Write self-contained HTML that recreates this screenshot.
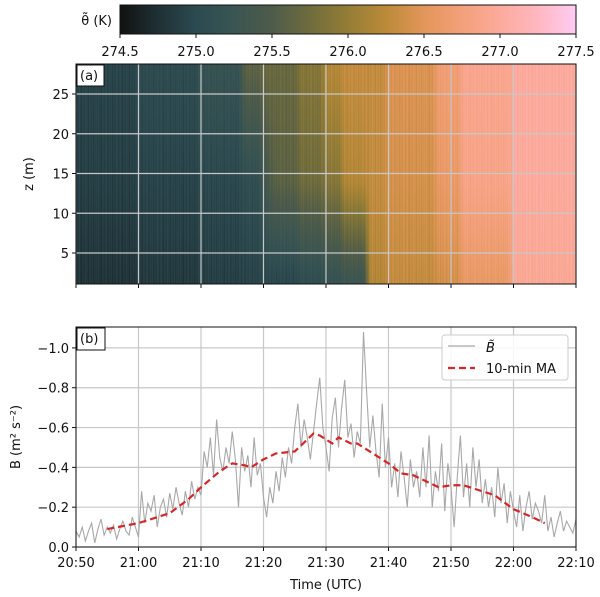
<!DOCTYPE html>
<html><head><meta charset="utf-8"><style>
body{margin:0;background:#fff;width:600px;height:597px;overflow:hidden;font-family:"Liberation Sans","DejaVu Sans",sans-serif}
#wrap{position:relative;width:600px;height:597px}
canvas{position:absolute;left:76px;top:64px}
svg{position:absolute;left:0;top:0}
text{font-family:"DejaVu Sans","Liberation Sans",sans-serif;font-size:13px;fill:#111}
</style></head><body><div id="wrap">
<canvas id="heat" width="500" height="220"></canvas>
<svg id="svg" width="600" height="597"></svg>
</div>
<script>
// ---- data ----
const heatMinutes = 80; // minutes after 20:50, sampled every minute (81 values)
const thetaTop = [274.95,274.95,274.95,274.95,274.95,274.95,274.95,274.95,274.95,274.95,275.05,275.05,275.05,275.05,275.05,275.05,275.05,275.05,275.05,275.05,275.2,275.2,275.2,275.2,275.2,275.2,275.2,275.6,275.6,275.6,275.7,275.7,275.7,275.7,275.7,275.7,275.9,275.9,275.9,275.9,276.2,276.2,276.2,276.3,276.3,276.3,276.3,276.3,276.3,276.3,276.45,276.45,276.45,276.45,276.45,276.45,276.45,276.45,276.7,276.7,276.7,276.7,276.9,276.9,276.9,276.9,276.9,276.9,276.9,276.9,277.0,277.0,277.0,277.0,277.0,277.0,277.0,277.0,277.0,277.0,277.0];
const thetaMid = [274.9,274.9,274.9,274.9,274.9,274.9,274.9,274.9,274.9,274.9,274.95,274.95,274.95,274.95,274.95,274.95,274.95,274.95,274.95,274.95,275.0,275.0,275.0,275.0,275.0,275.0,275.0,275.1,275.1,275.1,275.3,275.5,275.6,275.6,275.6,275.6,275.75,275.75,275.75,275.75,275.9,275.9,275.9,276.2,276.2,276.2,276.2,276.3,276.3,276.3,276.4,276.4,276.4,276.4,276.4,276.4,276.4,276.4,276.6,276.6,276.6,276.6,276.85,276.85,276.85,276.85,276.85,276.85,276.85,276.85,277.0,277.0,277.0,277.0,277.0,277.0,277.0,277.0,277.0,277.0,277.0];
const thetaBottom = [274.8,274.8,274.8,274.8,274.8,274.8,274.8,274.8,274.8,274.8,274.85,274.85,274.85,274.85,274.85,274.85,274.85,274.85,274.85,274.85,274.9,274.9,274.9,274.9,274.9,274.9,274.9,274.95,274.95,274.95,275.0,275.0,275.0,275.0,275.0,275.0,275.1,275.1,275.1,275.1,275.2,275.2,275.2,275.3,275.3,275.3,275.3,276.2,276.2,276.2,276.3,276.3,276.3,276.3,276.3,276.3,276.3,276.3,276.4,276.4,276.4,276.4,276.6,276.6,276.6,276.6,276.6,276.6,276.6,276.6,276.95,276.95,276.95,276.95,276.95,276.95,276.95,276.95,276.95,276.95,276.95];
const zLevels = [2,14,28];
const streaks = [0.05,-0.08,0.02,0.1,-0.04,-0.1,0.06,0.0,-0.06,0.12,-0.02,0.04,-0.12,0.08,0.01,-0.05,0.09,-0.09,0.03,-0.01,0.07,-0.07,0.11,-0.03,0.0,-0.11,0.06,0.02,-0.06,0.04,0.1,-0.08,-0.02,0.05,-0.04,0.08,-0.1,0.03,0.0,-0.05,0.09];
const bRaw = [0.08,0.05,0.1,0.03,0.08,0.12,0.02,0.09,0.14,0.06,0.1,
0.07,0.11,0.04,0.09,0.13,0.08,0.06,0.15,0.1,0.05,
0.28,0.12,0.22,0.18,0.26,0.1,0.2,0.24,0.15,0.27,
0.19,0.3,0.22,0.16,0.28,0.2,0.33,0.24,0.3,0.26,
0.48,0.4,0.55,0.36,0.64,0.45,0.38,0.5,0.42,0.58,
0.44,0.2,0.5,0.38,0.46,0.3,0.55,0.36,0.42,0.25,
0.15,0.3,0.22,0.38,0.28,0.45,0.35,0.5,0.42,0.6,
0.72,0.5,0.64,0.55,0.44,0.58,0.72,0.85,0.6,0.5,
0.38,0.65,0.75,0.5,0.7,0.84,0.55,0.62,0.45,0.58,
0.52,1.08,0.78,0.5,0.66,0.48,0.35,0.72,0.4,0.55,
0.3,0.42,0.25,0.48,0.35,0.2,0.44,0.3,0.38,0.25,
0.5,0.3,0.56,0.2,0.38,0.28,0.52,0.18,0.42,0.3,
0.1,0.35,0.56,0.25,0.42,0.2,0.5,0.3,0.44,0.22,
0.34,0.2,0.3,0.15,0.4,0.22,0.32,0.12,0.28,0.18,
0.1,0.26,0.08,0.2,0.28,0.14,0.22,0.18,0.12,0.26,
0.08,0.15,0.05,0.12,0.18,0.08,0.13,0.1,0.07,0.14];
const bStep = 0.5;
const maTimes = [5,10,15,18,20,23,25,27,28,30,32,35,37,38,39,41,42,44,45,48,50,52,54,56,58,60,62,64,67,70,73,75];
const maVals = [0.09,0.12,0.17,0.24,0.30,0.38,0.42,0.41,0.40,0.44,0.47,0.48,0.54,0.57,0.56,0.52,0.55,0.52,0.52,0.46,0.42,0.37,0.36,0.33,0.30,0.31,0.31,0.29,0.26,0.19,0.15,0.12];
const timeTicks = ["20:50","21:00","21:10","21:20","21:30","21:40","21:50","22:00","22:10"];
const zTicks = [5,10,15,20,25];
const bTicks = [0,0.2,0.4,0.6,0.8,1.0];
const cbTicks = [274.5,275.0,275.5,276.0,276.5,277.0,277.5];
const cmapVals = [274.5,274.75,275.0,275.25,275.5,275.75,276.0,276.25,276.5,276.75,277.0,277.25,277.5];
const cmapCols = ["#111111","#1f3034","#2b4a51","#3a5552","#4e5b4a","#6f6c3d","#947d36","#bb8a38","#e3965a","#f3a07a","#fcaa9c","#ffb8c0","#ffcbf3"];

// ---- axes ----
const AX={x0:76,x1:576}, A={y0:64,y1:284}, B={y0:327,y1:547}, CB={x0:120,x1:576,y0:5,y1:34};
const xT = m => AX.x0 + m/80*(AX.x1-AX.x0);
const zY = z => 253 - (z-5)*7.95;
const bY = v => B.y1 - v/1.105*(B.y1-B.y0);
const cbX = v => CB.x0 + (v-274.5)/3*(CB.x1-CB.x0);
function hex(c){return [1,3,5].map(i=>parseInt(c.substr(i,2),16));}
function cmap(v){
  if(v<=cmapVals[0])return hex(cmapCols[0]);
  for(let i=1;i<cmapVals.length;i++){ if(v<=cmapVals[i]){const f=(v-cmapVals[i-1])/(cmapVals[i]-cmapVals[i-1]);const a=hex(cmapCols[i-1]),b=hex(cmapCols[i]);return a.map((x,k)=>x+(b[k]-x)*f);} }
  return hex(cmapCols[cmapCols.length-1]);
}
function interp(arr,m){const i=Math.floor(m),f=m-i;const a=arr[Math.min(i,arr.length-1)],b=arr[Math.min(i+1,arr.length-1)];return a+(b-a)*f;}
// heatmap
const cv=document.getElementById('heat'),ctx=cv.getContext('2d');
const W=500,H=A.y1-A.y0;
const img=ctx.createImageData(W,H);
for(let px=0;px<W;px++){
  const m=px/W*heatMinutes;
  const s=streaks[px%streaks.length];
  const lv=[interp(thetaBottom,m),interp(thetaMid,m),interp(thetaTop,m)];
  for(let py=0;py<H;py++){
    const z=5+(253-(A.y0+py))/7.95;
    let v;
    if(z<=zLevels[1]) v=lv[0]+(lv[1]-lv[0])*Math.max(0,(z-zLevels[0]))/(zLevels[1]-zLevels[0]);
    else v=lv[1]+(lv[2]-lv[1])*Math.min(1,(z-zLevels[1])/(zLevels[2]-zLevels[1]));
    v+=s;
    const c=cmap(v),o=(py*W+px)*4;
    img.data[o]=c[0];img.data[o+1]=c[1];img.data[o+2]=c[2];img.data[o+3]=255;
  }
}
ctx.putImageData(img,0,0);

const svg=document.getElementById('svg'),NS="http://www.w3.org/2000/svg";
function el(tag,at,txt){const e=document.createElementNS(NS,tag);for(const k in at)e.setAttribute(k,at[k]);if(txt!==undefined)e.textContent=txt;svg.appendChild(e);return e;}

// colorbar
const defs=el('defs',{});
const lg=document.createElementNS(NS,'linearGradient');lg.setAttribute('id','cbg');defs.appendChild(lg);
cmapVals.forEach((v,i)=>{const s=document.createElementNS(NS,'stop');s.setAttribute('offset',((v-274.5)/3*100)+'%');s.setAttribute('stop-color',cmapCols[i]);lg.appendChild(s);});
let e=el('rect',{x:CB.x0,y:CB.y0,width:CB.x1-CB.x0,height:CB.y1-CB.y0,fill:'url(#cbg)',stroke:'#111','stroke-width':1});

e=el('text',{x:112,y:25,'text-anchor':'end','font-style':'normal'},'θ̃ (K)');

cbTicks.forEach(v=>{el('line',{x1:cbX(v),x2:cbX(v),y1:CB.y1,y2:CB.y1+4,stroke:'#111'});
  e=el('text',{x:cbX(v),y:CB.y1+22,'text-anchor':'middle'},v.toFixed(1));
  });

// grids
timeTicks.forEach((t,i)=>{const x=xT(i*10);
  el('line',{x1:x,x2:x,y1:A.y0,y2:A.y1,stroke:'#c8c8c8','stroke-width':1.2});
  el('line',{x1:x,x2:x,y1:A.y1,y2:A.y1+4,stroke:'#111'});
  el('line',{x1:x,x2:x,y1:B.y0,y2:B.y1,stroke:'#c8c8c8','stroke-width':1.2});
  el('line',{x1:x,x2:x,y1:B.y1,y2:B.y1+4,stroke:'#111'});
  e=el('text',{x:x,y:B.y1+20,'text-anchor':'middle'},t);
  });
zTicks.forEach(z=>{const y=zY(z);
  el('line',{x1:AX.x0,x2:AX.x1,y1:y,y2:y,stroke:'#c8c8c8','stroke-width':1.2});
  el('line',{x1:AX.x0-4,x2:AX.x0,y1:y,y2:y,stroke:'#111'});
  e=el('text',{x:AX.x0-7,y:y+5,'text-anchor':'end'},String(z));
  });
e=el('rect',{x:AX.x0,y:A.y0,width:500,height:A.y1-A.y0,fill:'none',stroke:'#111','stroke-width':1});

e=el('text',{x:33,y:174,'text-anchor':'middle',transform:'rotate(-90 33 174)'},'z (m)');

el('rect',{x:77,y:65,width:27,height:21,fill:'#fff',stroke:'#111'});
e=el('text',{x:80,y:80},'(a)');

// panel b
bTicks.forEach(v=>{const y=bY(v);
  el('line',{x1:AX.x0,x2:AX.x1,y1:y,y2:y,stroke:'#c8c8c8','stroke-width':1.2});
  el('line',{x1:AX.x0-4,x2:AX.x0,y1:y,y2:y,stroke:'#111'});
  e=el('text',{x:AX.x0-7,y:y+5,'text-anchor':'end'},(v===0?'0.0':'\u2212'+v.toFixed(1)));
  });
e=el('polyline',{points:bRaw.map((v,i)=>xT(i*bStep)+','+bY(v)).join(' '),fill:'none',stroke:'#a8a8a8','stroke-width':1.1});

e=el('polyline',{points:maVals.map((v,i)=>xT(maTimes[i])+','+bY(v)).join(' '),fill:'none',stroke:'#d62728','stroke-width':2.2,'stroke-dasharray':'7,4'});

e=el('rect',{x:AX.x0,y:B.y0,width:500,height:B.y1-B.y0,fill:'none',stroke:'#111','stroke-width':1});

el('rect',{x:77,y:328,width:28,height:22,fill:'#fff',stroke:'#111'});
e=el('text',{x:80,y:343},'(b)');
e=el('text',{x:326,y:589,'text-anchor':'middle'},'Time (UTC)');

e=el('text',{x:20,y:437,'text-anchor':'middle',transform:'rotate(-90 20 437)'},'B (m² s⁻²)');

// legend
e=el('rect',{x:442,y:335,width:126,height:45,fill:'#fff','fill-opacity':0.85,stroke:'#ccc',rx:3});

el('line',{x1:448,x2:475,y1:346,y2:346,stroke:'#a8a8a8','stroke-width':1.2});
e=el('text',{x:486,y:352,'font-style':'italic'},'B̃');
el('line',{x1:448,x2:475,y1:368,y2:368,stroke:'#d62728','stroke-width':2.2,'stroke-dasharray':'7,4'});
e=el('text',{x:486,y:373},'10-min MA');
</script></body></html>
